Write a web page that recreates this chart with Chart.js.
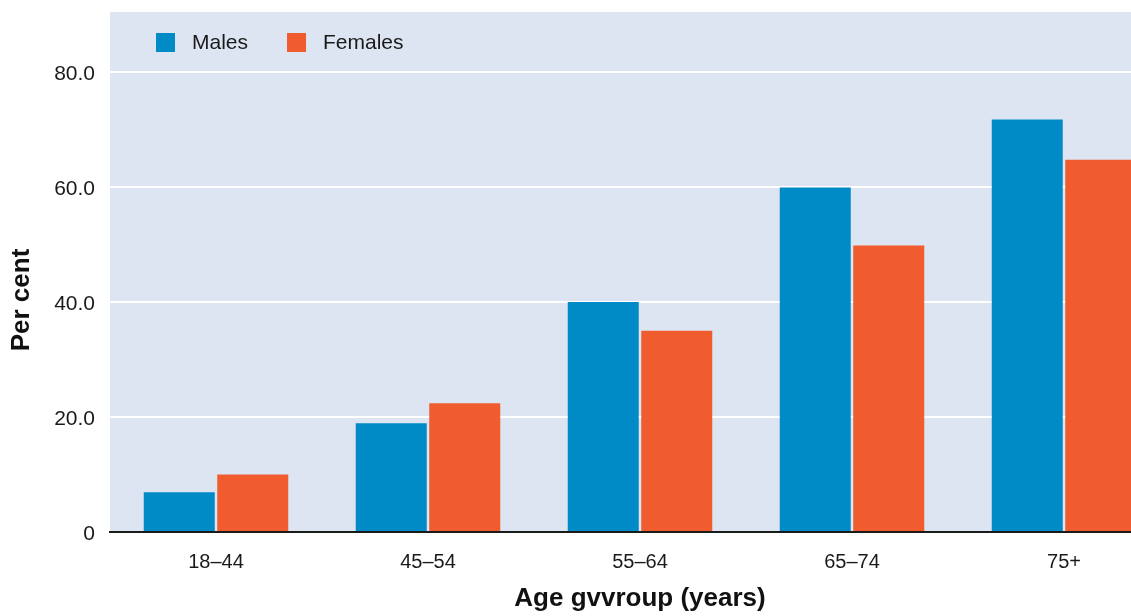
<!DOCTYPE html>
<html>
<head>
<meta charset="utf-8">
<script src="https://cdn.jsdelivr.net/npm/chart.js@4/dist/chart.umd.min.js"></script>
<style>
  html, body { margin: 0; padding: 0; background: #ffffff; overflow: hidden; }
  #wrap { position: relative; width: 1170px; height: 616px; }
</style>
</head>
<body>
<div id="wrap"><canvas id="c"></canvas></div>
<script>
const categories = ['18–44', '45–54', '55–64', '65–74', '75+'];
const males = [6.9, 18.9, 40.0, 59.9, 71.7];
const females = [10.0, 22.4, 35.0, 49.8, 64.7];
const yTicks = [0, 20, 40, 60, 80];
const seriesNames = ['Males', 'Females'];
const yTitle = 'Per cent';
const xTitle = 'Age gvvroup (years)';

const FONT = "'Liberation Sans', Arial, Helvetica, sans-serif";
Chart.defaults.font.family = FONT;
Chart.defaults.color = '#1a1a1a';

const plotBg = {
  id: 'plotBg',
  beforeDraw(chart) {
    const a = chart.chartArea, ctx = chart.ctx;
    ctx.save();
    ctx.fillStyle = '#dce5f1';
    ctx.fillRect(a.left, a.top, a.right - a.left, a.bottom - a.top);
    ctx.restore();
  }
};

// legend drawn inside the plot area, from the datasets' own labels/colours
const inPlotLegend = {
  id: 'inPlotLegend',
  afterDraw(chart) {
    const a = chart.chartArea, ctx = chart.ctx;
    ctx.save();
    ctx.font = '21px ' + FONT;
    ctx.textBaseline = 'middle';
    ctx.textAlign = 'left';
    let x = a.left + 46;
    const boxTop = a.top + 21, box = 19, cy = boxTop + box / 2 + 1;
    chart.data.datasets.forEach(ds => {
      ctx.fillStyle = ds.backgroundColor;
      ctx.fillRect(x, boxTop, box, box);
      ctx.fillStyle = '#1a1a1a';
      const tx = x + 36;
      ctx.fillText(ds.label, tx, cy);
      x = tx + ctx.measureText(ds.label).width + 39;
    });
    ctx.restore();
  }
};

new Chart(document.getElementById('c'), {
  type: 'bar',
  data: {
    labels: categories,
    datasets: [
      { label: seriesNames[0], data: males, backgroundColor: '#008bc7',
        categoryPercentage: 0.6934, barPercentage: 0.966 },
      { label: seriesNames[1], data: females, backgroundColor: '#f15c2e',
        categoryPercentage: 0.6934, barPercentage: 0.966 }
    ]
  },
  options: {
    responsive: true,
    maintainAspectRatio: false,
    animation: false,
    layout: { padding: { top: 12, left: 0, right: 0, bottom: 0 } },
    plugins: {
      legend: { display: false },
      tooltip: { enabled: false }
    },
    scales: {
      x: {
        z: 1,
        grid: { display: false },
        border: { display: true, color: '#1a1a1a', width: 2 },
        ticks: { font: { size: 20 }, padding: 10, color: '#1a1a1a', maxRotation: 0 },
        title: { display: true, text: xTitle, font: { size: 26, weight: 'bold' },
                 padding: { top: 0, bottom: 2 }, color: '#111' },
        afterFit(s) { s.height = 84; s.paddingLeft = 0; s.paddingRight = 0; }
      },
      y: {
        min: 0,
        max: 90.4,
        afterBuildTicks(s) { s.ticks = yTicks.map(v => ({ value: v })); },
        grid: {
          drawTicks: false,
          color: ctx => (ctx.tick && ctx.tick.value === 0) ? 'rgba(0,0,0,0)' : '#ffffff',
          lineWidth: 2
        },
        border: { display: false },
        ticks: {
          font: { size: 21 },
          padding: 15,
          labelOffset: 2,
          color: '#1a1a1a',
          callback: v => v === 0 ? '0' : Number(v).toFixed(1)
        },
        title: { display: true, text: yTitle, font: { size: 26, weight: 'bold' },
                 padding: { top: 6.5, bottom: 0 }, color: '#111' },
        afterFit(s) {
          s.width = 110; s.paddingTop = 0; s.paddingBottom = 0;
          if (!s._titleShifted) {
            const orig = s.drawTitle.bind(s);
            s.drawTitle = function () {
              this.ctx.save();
              this.ctx.translate(0, 28);
              orig();
              this.ctx.restore();
            };
            s._titleShifted = true;
          }
        }
      }
    }
  },
  plugins: [plotBg, inPlotLegend]
});
</script>
</body>
</html>
